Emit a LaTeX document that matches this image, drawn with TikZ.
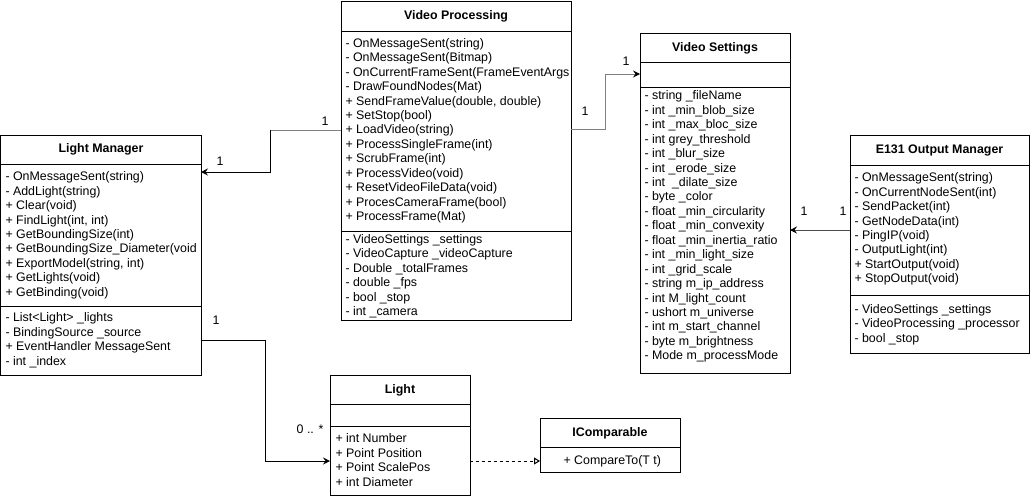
\documentclass[tikz,border=0pt]{standalone}
\usepackage{fontspec}
\setmainfont{Liberation Sans}
\usetikzlibrary{arrows.meta}
\newcommand\umllines[4]{%
  \foreach \t [count=\i from 0] in {#4} {\node[item] (#1-\i) at (#2, #3+14.45*\i) {\t};}}
\begin{document}
\begin{tikzpicture}[x=1pt,y=-1pt, line width=1pt,
  box/.style={draw=black, fill=white, inner sep=0, outer sep=0, anchor=north west},
  title/.style={font=\fontsize{12.4}{14}\selectfont\bfseries, inner sep=0},
  item/.style={font=\fontsize{12.4}{14}\selectfont, anchor=west, inner sep=0},
  lbl/.style={font=\fontsize{12.4}{14}\selectfont, inner sep=0},
  tip/.style={-{Stealth[length=7pt,width=7pt,inset=2.5pt,color=black]}},
  conn/.style={draw=black},
  conng/.style={draw=black!50},
  realize/.style={dash pattern=on 3pt off 3pt, -{Triangle[open,length=6pt,width=7pt,fill=white]}},
]
\useasboundingbox (0,0) rectangle (1030,496);

% ---------- Light Manager
\node[box, minimum width=200.5pt, minimum height=240pt] (lm) at (0.5,135) {};
\node[title] (lmt) at (101,149.5) {Light Manager};
\draw (0.5,164) -- (201,164) (0.5,306) -- (201,306);
\umllines{lmm}{5}{177.5}{{- OnMessageSent(string)},{- AddLight(string)},{+ Clear(void)},{+ FindLight(int, int)},{+ GetBoundingSize(int)},{+ GetBoundingSize\_Diameter(void},{+ ExportModel(string, int)},{+ GetLights(void)},{+ GetBinding(void)}}
\umllines{lma}{5}{318.5}{{- List<Light> \_lights},{- BindingSource \_source},{+ EventHandler MessageSent},{- int \_index}}

% ---------- Video Processing
\node[box, minimum width=230pt, minimum height=319pt] (vp) at (341,1) {};
\node[title] (vpt) at (456,16) {Video Processing};
\draw (341,31) -- (571,31) (341,231) -- (571,231);
\umllines{vpm}{345}{44}{{- OnMessageSent(string)},{- OnMessageSent(Bitmap)},{- OnCurrentFrameSent(FrameEventArgs},{- DrawFoundNodes(Mat)},{+ SendFrameValue(double, double)},{+ SetStop(bool)},{+ LoadVideo(string)},{+ ProcessSingleFrame(int)},{+ ScrubFrame(int)},{+ ProcessVideo(void)},{+ ResetVideoFileData(void)},{+ ProcesCameraFrame(bool)},{+ ProcessFrame(Mat)}}
\umllines{vpa}{345}{240}{{- VideoSettings \_settings},{- VideoCapture \_videoCapture},{- Double \_totalFrames},{- double \_fps},{- bool \_stop},{- int \_camera}}

% ---------- Video Settings
\node[box, minimum width=150pt, minimum height=340pt] (vs) at (640,33) {};
\node[title] (vst) at (715,48) {Video Settings};
\draw (640,62) -- (790,62) (640,87) -- (790,87);
\umllines{vsa}{644}{96.5}{{- string \_fileName},{- int \_min\_blob\_size},{- int \_max\_bloc\_size},{- int grey\_threshold},{- int \_blur\_size},{- int \_erode\_size},{- int \ \_dilate\_size},{- byte \_color},{- float \_min\_circularity},{- float \_min\_convexity},{- float \_min\_inertia\_ratio},{- int \_min\_light\_size},{- int \_grid\_scale},{- string m\_ip\_address},{- int M\_light\_count},{- ushort m\_universe},{- int m\_start\_channel},{- byte m\_brightness},{- Mode m\_processMode}}

% ---------- E131 Output Manager
\node[box, minimum width=179pt, minimum height=218pt] (eo) at (850,135) {};
\node[title] (eot) at (939.5,150) {E131 Output Manager};
\draw (850,165) -- (1029,165) (850,295) -- (1029,295);
\umllines{eom}{854}{178.5}{{- OnMessageSent(string)},{- OnCurrentNodeSent(int)},{- SendPacket(int)},{- GetNodeData(int)},{- PingIP(void)},{- OutputLight(int)},{+ StartOutput(void)},{+ StopOutput(void)}}
\umllines{eoa}{854}{310}{{- VideoSettings \_settings},{- VideoProcessing \_processor},{- bool \_stop}}

% ---------- Light
\node[box, minimum width=140pt, minimum height=120pt] (li) at (330,375) {};
\node[title] (lit) at (400,390) {Light};
\draw (330,404) -- (470,404) (330,426) -- (470,426);
\umllines{lia}{335}{438.5}{{+ int Number},{+ Point Position},{+ Point ScalePos},{+ int Diameter}}

% ---------- IComparable
\node[box, minimum width=140pt, minimum height=54pt] (ic) at (540,418) {};
\node[title] (ict) at (610,433) {IComparable};
\draw (540,447) -- (680,447);
\node[item] (icm) at (563,461) {+ CompareTo(T t)};

% ---------- connectors
\coordinate (a1) at (270,130);
\coordinate (a2) at (270,172);
\draw[conng] (vp.west |- a1) -- (a1);
\draw[conn, tip] (a1) -- (a2) -- (lm.east |- a2);
\node[lbl] (la1) at (325,121) {1};
\node[lbl] (la2) at (220,161) {1};

\coordinate (b1) at (605,129.5);
\coordinate (b2) at (605,74);
\draw[conng, tip] (vp.east |- b1) -- (b1) -- (b2) -- (vs.west |- b2);
\node[lbl] (lb1) at (585,111) {1};
\node[lbl] (lb2) at (626,61) {1};

\coordinate (c1) at (850,230);
\draw[draw=black!70, tip] (eo.west |- c1) -- (vs.east |- c1);
\node[lbl] (lc1) at (804,211) {1};
\node[lbl] (lc2) at (843,211) {1};

\coordinate (d1) at (265,340.5);
\coordinate (d2) at (265,461);
\draw[conn, tip] (lm.east |- d1) -- (d1) -- (d2) -- (li.west |- d2);
\node[lbl] (ld1) at (216,320) {1};
\node[lbl] (ld2) at (310,429) {0 .. *};

\draw[realize] (li.east |- d2) -- (ic.west |- d2);
\end{tikzpicture}
\end{document}
